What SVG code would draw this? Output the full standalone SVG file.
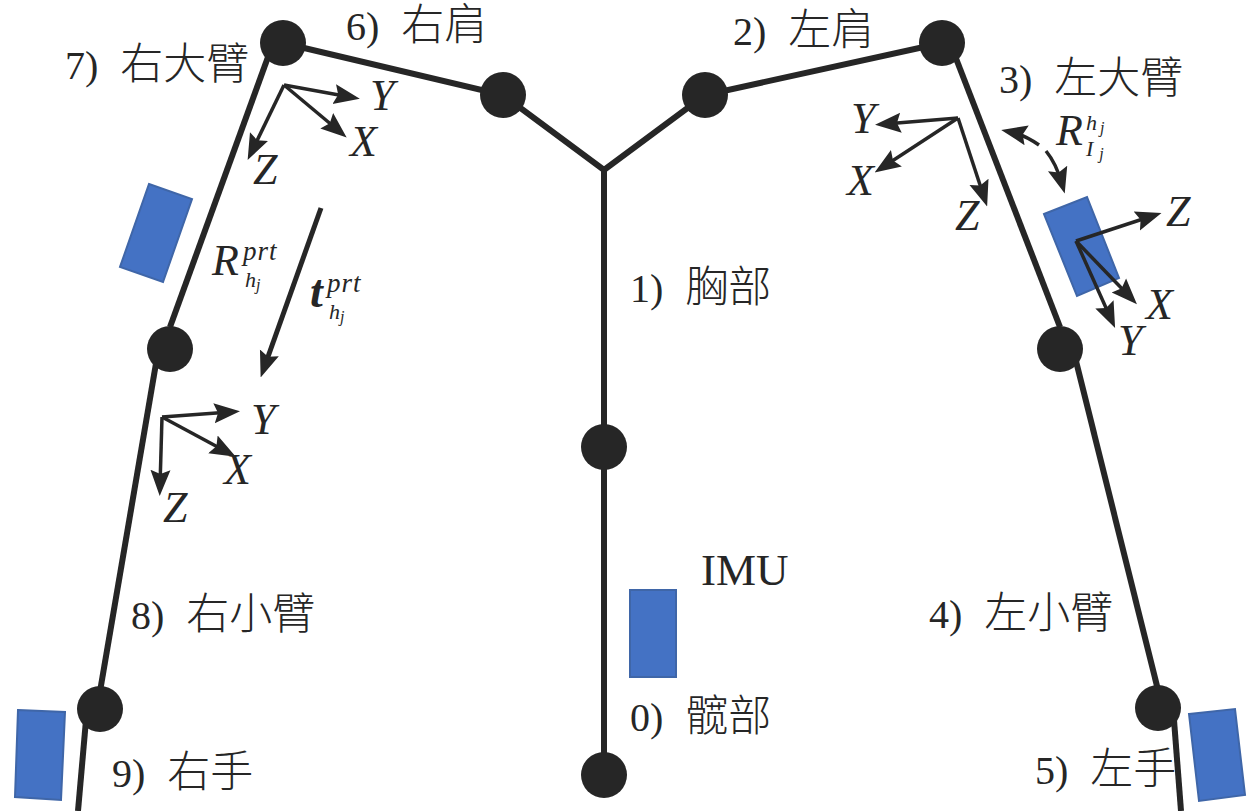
<svg xmlns="http://www.w3.org/2000/svg" width="1260" height="811" viewBox="0 0 1260 811">
<style>
.bone{fill:none;stroke:#262626;stroke-width:6}
.ax{fill:none;stroke:#262626;stroke-width:3.5;marker-end:url(#ah)}
.j{fill:#262626}
.imu{fill:#4472c4;stroke:#3f66a8;stroke-width:2}
text{font-family:"Liberation Serif","Noto Sans CJK SC",serif;font-size:40px;fill:#262626}
.cn{font-family:"Noto Sans CJK SC","Liberation Serif",serif;font-weight:300;font-size:43px}
.m{font-style:italic;font-size:44px}
.s{font-style:italic;font-size:27px;letter-spacing:1px}
.h{font-style:italic;font-size:22px}
.k{font-size:16px}
.b{font-style:italic;font-weight:bold;font-size:46px}
</style>
<defs>
<marker id="ah" markerUnits="userSpaceOnUse" markerWidth="26" markerHeight="24" refX="16" refY="12" orient="auto">
<path d="M0 2L26 12L0 22L4 12Z" fill="#262626"/>
</marker>
</defs>
<g id="connectors">
<path class="bone" d="M276 35L170 327"/>
<path class="bone" d="M160 340L97 709"/>
<path class="bone" d="M86 720L78 811"/>
<path class="bone" d="M945 30L1060 327"/>
<path class="bone" d="M1073 349L1158 690"/>
<path class="bone" d="M1174 720L1181 811"/>
<path class="bone" d="M283 43L503 95L604 170L705 95L942 43"/>
<path class="bone" d="M604 170V775"/>
<path class="ax" d="M958 118L885 124"/>
<path class="ax" d="M958 118L883 167"/>
<path class="ax" d="M958 118L984 197"/>
<path class="ax" d="M284 85L350 97"/>
<path class="ax" d="M284 85L339 131"/>
<path class="ax" d="M284 85L252 151"/>
<path class="ax" style="stroke-width:5" d="M321 208L264 368"/>
<path class="ax" d="M162 417L230 412"/>
<path class="ax" d="M162 417L227 452"/>
<path class="ax" d="M162 417L160 486"/>
<path class="ax" d="M1039 145Q1025 135 1011 132"/>
<path class="ax" d="M1046 151Q1056 163 1062 184"/>
</g>
<g id="imu-upper-right-arm"><polygon class="imu" points="149,184 192,199 163,282 120,267"/></g>
<g id="imu-left-upper-arm">
<polygon class="imu" points="1044,214 1087,197 1119,278 1077,296"/>
<path class="ax" d="M1076 241L1152 216"/>
<path class="ax" d="M1076 241L1130 297"/>
<path class="ax" d="M1076 241L1111 319"/>
</g>
<g id="imu-hip"><rect class="imu" x="630" y="590" width="46" height="87"/></g>
<g id="imu-right-hand"><polygon class="imu" points="18,710 65,712 61,800 15,797"/></g>
<g id="imu-left-hand"><polygon class="imu" points="1189,714 1235,709 1245,795 1199,801"/></g>
<g id="joint-right-shoulder"><circle class="j" cx="283" cy="43" r="23"/></g>
<g id="joint-right-neck"><circle class="j" cx="503" cy="95" r="23"/></g>
<g id="joint-left-neck"><circle class="j" cx="705" cy="95" r="23"/></g>
<g id="joint-left-shoulder"><circle class="j" cx="942" cy="43" r="23"/></g>
<g id="joint-right-elbow"><circle class="j" cx="170" cy="349" r="23"/></g>
<g id="joint-left-elbow"><circle class="j" cx="1060" cy="349" r="23"/></g>
<g id="joint-chest"><circle class="j" cx="604" cy="447" r="23"/></g>
<g id="joint-hip"><circle class="j" cx="604" cy="775" r="23"/></g>
<g id="joint-right-wrist"><circle class="j" cx="100" cy="709" r="23"/></g>
<g id="joint-left-wrist"><circle class="j" cx="1158" cy="708" r="23"/></g>
<g id="labels">
<text x="346" y="40">6) <tspan class="cn" dx="12">右肩</tspan></text>
<text x="733" y="45">2) <tspan class="cn" dx="12">左肩</tspan></text>
<text x="65" y="79">7) <tspan class="cn" dx="12">右大臂</tspan></text>
<text x="999" y="93">3) <tspan class="cn" dx="12">左大臂</tspan></text>
<text x="630" y="302">1) <tspan class="cn" dx="12">胸部</tspan></text>
<text x="131" y="629">8) <tspan class="cn" dx="12">右小臂</tspan></text>
<text x="929" y="628">4) <tspan class="cn" dx="12">左小臂</tspan></text>
<text x="630" y="731">0) <tspan class="cn" dx="12">髋部</tspan></text>
<text x="112" y="787">9) <tspan class="cn" dx="12">右手</tspan></text>
<text x="1035" y="784">5) <tspan class="cn" dx="12">左手</tspan></text>
<text x="701" y="585" style="font-size:45px">IMU</text>
<text class="m" x="370" y="110">Y</text>
<text class="m" x="350" y="156">X</text>
<text class="m" x="253" y="184">Z</text>
<text class="m" x="851" y="133">Y</text>
<text class="m" x="847" y="195">X</text>
<text class="m" x="955" y="230">Z</text>
<text class="m" x="1166" y="226">Z</text>
<text class="m" x="1146" y="319">X</text>
<text class="m" x="1118" y="355">Y</text>
<text class="m" x="251" y="434">Y</text>
<text class="m" x="224" y="484">X</text>
<text class="m" x="163" y="522">Z</text>
<text class="m" x="212" y="275">R</text>
<text class="s" x="243" y="260">prt</text>
<text class="h" x="245" y="287">h<tspan class="k" dy="3">j</tspan></text>
<text class="b" x="310" y="307">t</text>
<text class="s" x="327" y="292">prt</text>
<text class="h" x="329" y="319">h<tspan class="k" dy="3">j</tspan></text>
<text class="m" x="1056" y="145">R</text>
<text class="h" x="1086" y="130">h<tspan class="k" dy="3" dx="3">j</tspan></text>
<text class="h" x="1086" y="156">I<tspan class="k" dy="3" dx="6">j</tspan></text>
</g>
</svg>
